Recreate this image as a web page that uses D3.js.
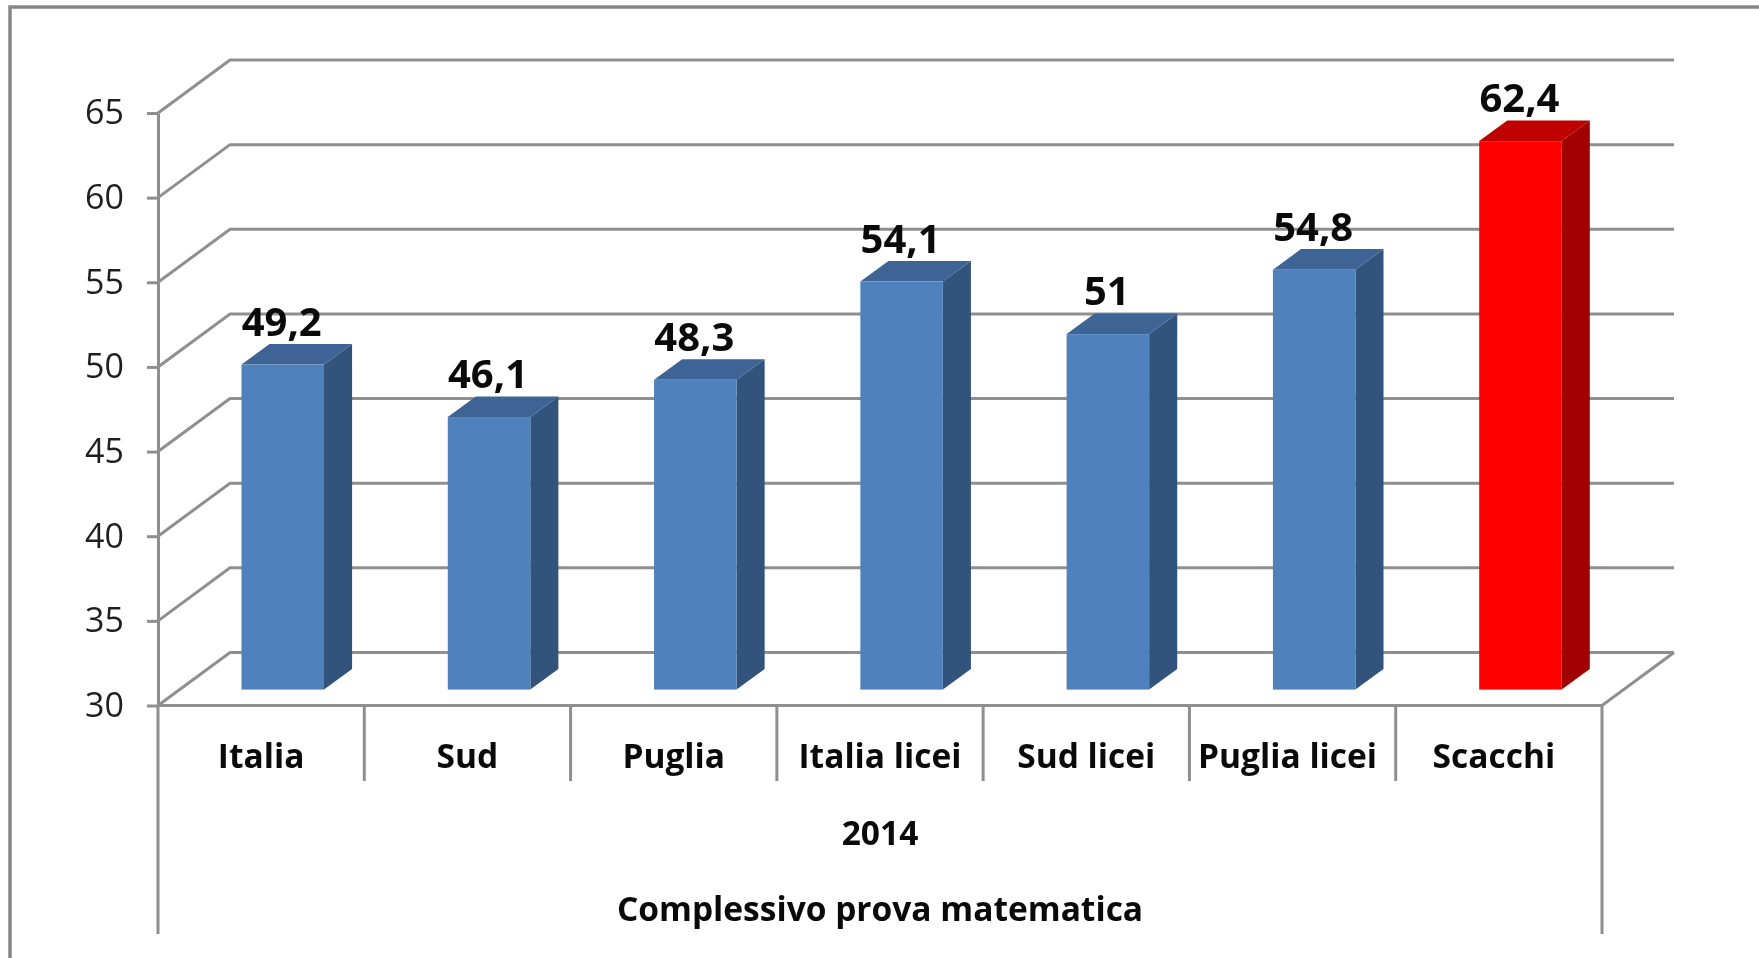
<!DOCTYPE html>
<html>
<head>
<meta charset="utf-8">
<script src="https://cdnjs.cloudflare.com/ajax/libs/d3/7.8.5/d3.min.js"></script>
<style>
html,body{margin:0;padding:0;background:#fff;}
svg{display:block;filter:blur(0.6px);}
text{font-family:"Open Sans",Lato,sans-serif;}
</style>
</head>
<body>
<svg id="chart" width="1759" height="958"></svg>
<script>
const categories = ["Italia","Sud","Puglia","Italia licei","Sud licei","Puglia licei","Scacchi"];
const values = [49.2,46.1,48.3,54.1,51,54.8,62.4];
const valueLabels = ["49,2","46,1","48,3","54,1","51","54,8","62,4"];
const yTicks = [30,35,40,45,50,55,60,65];
const groupLabel = "2014";
const titleLabel = "Complessivo prova matematica";
const highlight = ["Scacchi"];

const svg = d3.select("#chart");
const gridCol = "#8f8f8f";
const W=1759,H=958;
const x0=158,x1=1602,yBase=705.5,yTop=113;

const x = d3.scaleBand().domain(categories).range([x0,x1]).paddingInner(0).paddingOuter(0);
const y = d3.scaleLinear().domain([30,65]).range([yBase,yTop]);
// oblique depth projection: 0 = front plane, 1 = back wall
const depthX = d3.scaleLinear().domain([0,1]).range([0,72]);
const depthY = d3.scaleLinear().domain([0,1]).range([0,-53]);
const depthFront=0.30, depthBack=0.69;
const barFrac=0.4;

// outer frame
svg.append("path").attr("d",`M10,${H}V7H${W}`).attr("fill","none").attr("stroke","#868686").attr("stroke-width",3.5);

// gridlines
const line=d3.line();
const grid = svg.append("g").attr("fill","none").attr("stroke",gridCol).attr("stroke-width",3);
yTicks.forEach(t=>{
  grid.append("path").attr("d",line([[x0,y(t)],[x0+depthX(1),y(t)+depthY(1)],[x1+depthX(1),y(t)+depthY(1)]]));
});
// floor front + right diagonal
grid.append("path").attr("d",line([[x0,yBase],[x1,yBase],[x1+depthX(1),yBase+depthY(1)]]));

// y axis
const yAxis = d3.axisLeft(y).tickValues(yTicks).tickSize(11).tickSizeOuter(0).tickPadding(23);
const gy = svg.append("g").attr("transform",`translate(${x0},0)`).call(yAxis);
gy.selectAll("path,line").attr("stroke",gridCol).attr("stroke-width",3);
gy.selectAll("text").attr("font-size",34).attr("fill","#1f1f1f").attr("font-family","Open Sans");

// multi-level category axis lines
const seps = svg.append("g").attr("stroke",gridCol).attr("stroke-width",3);
categories.slice(1).forEach(c=>{
  seps.append("line").attr("x1",x(c)).attr("x2",x(c)).attr("y1",yBase).attr("y2",781);
});
[x0,x1].forEach(px=>seps.append("line").attr("x1",px).attr("x2",px).attr("y1",yBase).attr("y2",934));

// bars
const colors = {
  normal:{front:"#4f81bd",side:"#32537c",top:"#3e6495"},
  high:{front:"#ff0000",side:"#a00000",top:"#bf0000"}
};
const bars = svg.append("g");
const barY = v => y(v)+depthY(depthFront);
const barX = c => x(c)+x.bandwidth()*(1-barFrac)/2+depthX(depthFront);
const barW = x.bandwidth()*barFrac;
const dx = depthX(depthBack)-depthX(depthFront), dy = depthY(depthBack)-depthY(depthFront);
categories.forEach((c,i)=>{
  const col = highlight.includes(c)?colors.high:colors.normal;
  const xl=barX(c), xr=xl+barW, yt=barY(values[i]), yb=barY(30);
  const g=bars.append("g");
  g.append("path").attr("fill",col.side).attr("d",line([[xr,yt],[xr+dx,yt+dy],[xr+dx,yb+dy],[xr,yb]])+"Z");
  g.append("path").attr("fill",col.top).attr("d",line([[xl,yt],[xl+dx,yt+dy],[xr+dx,yt+dy],[xr,yt]])+"Z");
  g.append("rect").attr("fill",col.front).attr("x",xl).attr("y",yt).attr("width",barW).attr("height",yb-yt);
});

// data labels
svg.append("g").selectAll("text").data(categories).join("text")
  .attr("x",c=>barX(c)+barW/2-1)
  .attr("y",(c,i)=>barY(values[i])-29)
  .attr("text-anchor","middle").attr("font-size",40).attr("font-weight",700).attr("fill","#0a0a0a")
  .text((c,i)=>valueLabels[i]);

// category labels (the last two sit slightly left of their band centres in the reference)
svg.append("g").selectAll("text").data(categories).join("text")
  .attr("x",(c,i)=>x(c)+x.bandwidth()/2-(i>=5?5:0))
  .attr("y",768)
  .attr("text-anchor","middle").attr("font-size",33.5).attr("font-weight",700).attr("fill","#0a0a0a")
  .text(c=>c);

const mid=(x0+x1)/2;
svg.append("text").attr("x",mid).attr("y",845).attr("text-anchor","middle").attr("font-size",33.5).attr("font-weight",700).attr("fill","#0a0a0a").text(groupLabel);
svg.append("text").attr("x",mid).attr("y",921).attr("text-anchor","middle").attr("font-size",33.5).attr("font-weight",700).attr("fill","#0a0a0a").text(titleLabel);
</script>
</body>
</html>
